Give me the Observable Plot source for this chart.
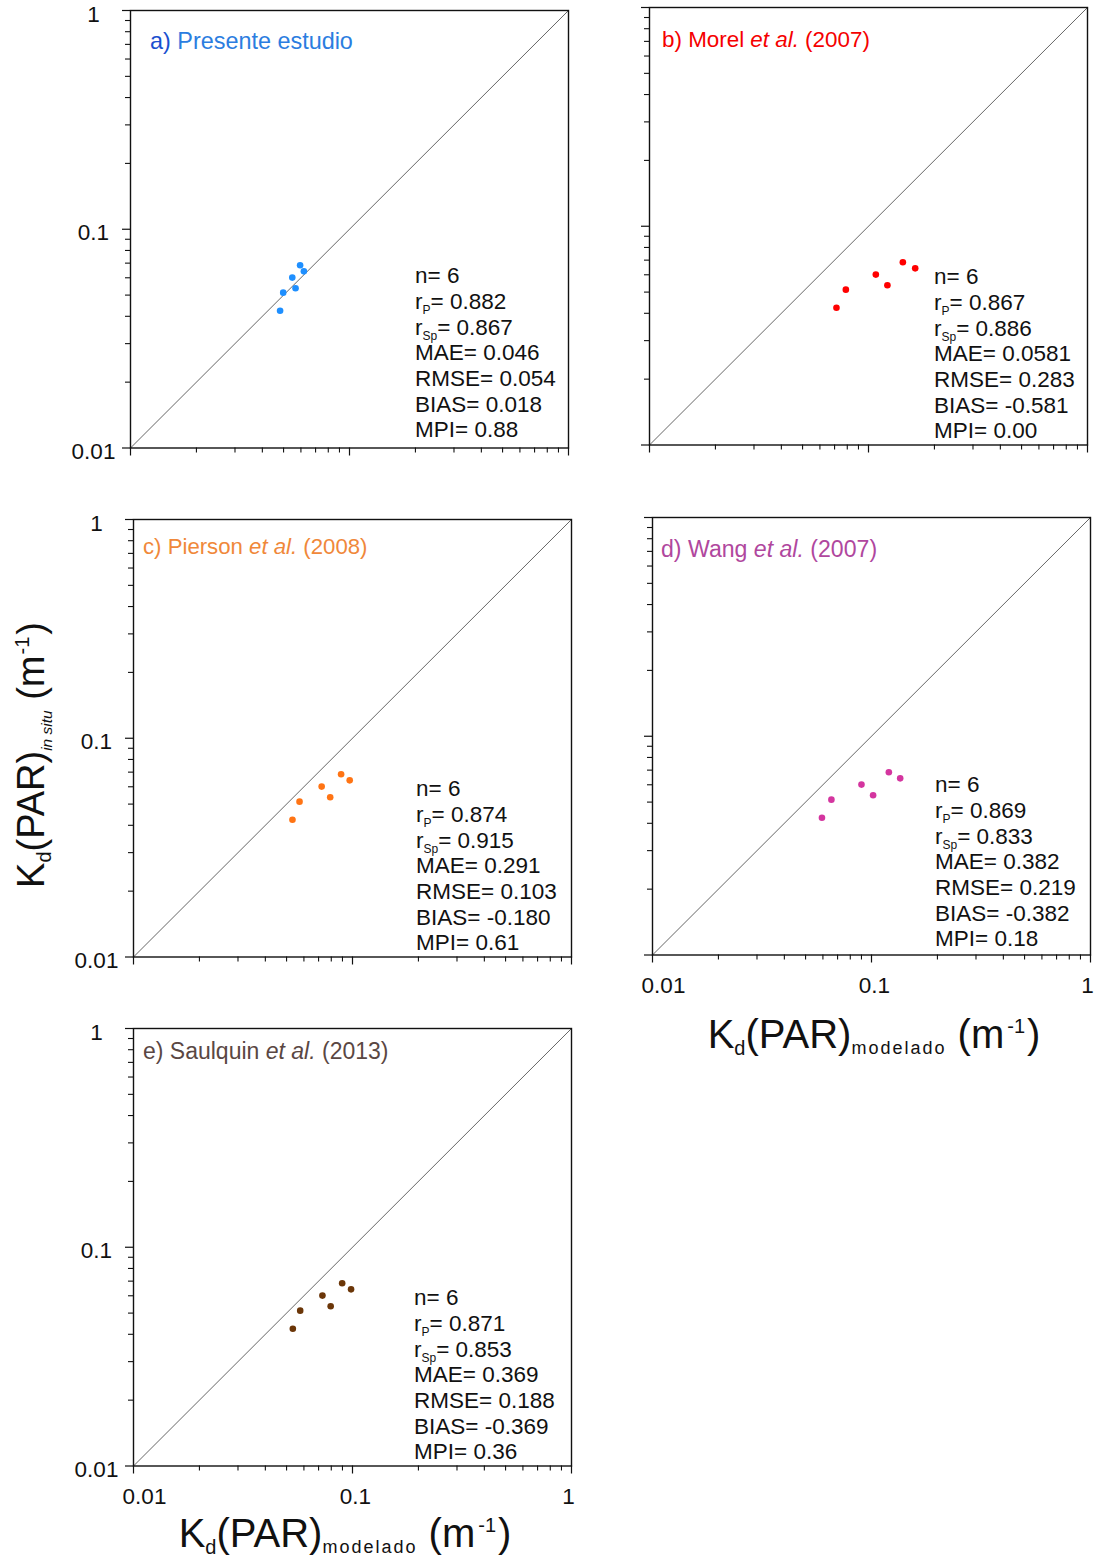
<!DOCTYPE html>
<html><head><meta charset="utf-8">
<script src="https://cdn.jsdelivr.net/npm/d3@7"></script>
<script src="https://cdn.jsdelivr.net/npm/@observablehq/plot@0.6"></script>
<style>
body{margin:0;background:#fff;}
#fig{position:relative;width:1096px;height:1559px;font-family:"Liberation Sans",Arial,sans-serif;overflow:hidden;background:#fff;}
#fig svg{position:absolute;overflow:visible;}
.ttl{position:absolute;font-size:22.5px;line-height:1;white-space:nowrap;}
.stats{position:absolute;font-size:22.5px;color:#111;white-space:nowrap;}
.stats div{height:25.7px;line-height:25.7px;}
.sb{position:relative;font-size:12px;line-height:0;top:5px;}
.axt{position:absolute;font-size:40px;line-height:1;white-space:nowrap;color:#111;transform:translate(-50%,-50%);}
.axt.rot{font-size:38px;transform:translate(-50%,-50%) rotate(-90deg);}
.s1{position:relative;font-size:20px;top:7px;line-height:0;}
.s2{position:relative;font-size:15.5px;top:8px;line-height:0;font-style:italic;}
.sm{position:relative;font-size:18px;top:6px;line-height:0;letter-spacing:2px;}
.sp{position:relative;font-size:20px;top:-15px;line-height:0;margin-left:3px;margin-right:2px;}
</style>
</head><body>
<div id="fig"></div>
<script>
// ---- data ----
const insitu   = [0.0424, 0.0513, 0.0601, 0.0537, 0.0685, 0.0642];
const presente = [0.0482, 0.0498, 0.0548, 0.0567, 0.0595, 0.0619];
const morel    = [0.0714, 0.0788, 0.108, 0.122, 0.1435, 0.1634];
const pierson  = [0.0532, 0.0573, 0.0723, 0.0791, 0.0887, 0.0971];
const wang     = [0.0594, 0.0656, 0.0900, 0.1017, 0.1200, 0.1352];
const saulquin = [0.0534, 0.0577, 0.0729, 0.0795, 0.0897, 0.0985];

const majorTicks = [0.01, 0.1, 1];
const minorTicks = [0.02,0.03,0.04,0.05,0.06,0.07,0.08,0.09,0.2,0.3,0.4,0.5,0.6,0.7,0.8,0.9];
const tickLabels = ["0.01", "0.1", "1"];
const oneToOne = [0.01, 1];

const statsA = ["6", "0.882", "0.867", "0.046", "0.054", "0.018", "0.88"];
const statsB = ["6", "0.867", "0.886", "0.0581", "0.283", "-0.581", "0.00"];
const statsC = ["6", "0.874", "0.915", "0.291", "0.103", "-0.180", "0.61"];
const statsD = ["6", "0.869", "0.833", "0.382", "0.219", "-0.382", "0.18"];
const statsE = ["6", "0.871", "0.853", "0.369", "0.188", "-0.369", "0.36"];

const panels = [
  {id:"a", model:presente, stats:statsA, dot:"#1e8fff", color:"#2b7de0", pre:"a)", preColor:"#1a4fcf", name:"Presente estudio", etal:"", year:"",
   fx:130, fy:9.5, ylab:true, xlab:false, sx:415, sy:276, tx:150, ty:49, tfs:23.4},
  {id:"b", model:morel, stats:statsB, dot:"#ff0000", color:"#f50000", pre:"b)", name:"Morel", etal:"et al.", year:"(2007)",
   fx:649.3, fy:7.3, ylab:false, xlab:false, sx:934, sy:277, tx:662, ty:48, tfs:22.4},
  {id:"c", model:pierson, stats:statsC, dot:"#ff7414", color:"#f0883a", pre:"c)", name:"Pierson", etal:"et al.", year:"(2008)",
   fx:133, fy:519, ylab:true, xlab:false, sx:416, sy:789, tx:143, ty:555, tfs:22.2},
  {id:"d", model:wang, stats:statsD, dot:"#d4359f", color:"#b0479e", pre:"d)", name:"Wang", etal:"et al.", year:"(2007)",
   fx:652, fy:517, ylab:false, xlab:true, sx:935, sy:785, tx:661, ty:557, tfs:23.1},
  {id:"e", model:saulquin, stats:statsE, dot:"#6b3608", color:"#5a4743", pre:"e)", name:"Saulquin", etal:"et al.", year:"(2013)",
   fx:133, fy:1028, ylab:true, xlab:true, sx:414, sy:1298, tx:143, ty:1059, tfs:23.0}
];

const FW = 438, FH = 437.5;
const M = {l: 70, r: 12, t: 12, b: 50};
const xLabelDx = [11, 3, -3];
const fig = document.getElementById("fig");

for (const p of panels) {
  const data = insitu.map((y, i) => ({x: p.model[i], y}));
  const marks = [
    Plot.line(oneToOne, {x: d => d, y: d => d, stroke: "#555", strokeWidth: 0.9}),
    // outward ticks on bottom and left edges
    Plot.ruleX(majorTicks, {x: d => d, insetTop: FH, insetBottom: -8, stroke: "#111", strokeWidth: 1.2}),
    Plot.ruleX(minorTicks, {x: d => d, insetTop: FH, insetBottom: -5, stroke: "#111", strokeWidth: 1.1}),
    Plot.ruleY(majorTicks, {y: d => d, insetLeft: -8, insetRight: FW, stroke: "#111", strokeWidth: 1.2}),
    Plot.ruleY(minorTicks, {y: d => d, insetLeft: -5, insetRight: FW, stroke: "#111", strokeWidth: 1.1}),
    Plot.frame({stroke: "#111", strokeWidth: 1.4}),
    Plot.dot(data, {x: "x", y: "y", r: 3.3, fill: p.dot, stroke: "none"})
  ];
  if (p.ylab) marks.push(Plot.text(majorTicks, {y: d => d, text: (d, i) => tickLabels[i], frameAnchor: "left", dx: -37, dy: 4, textAnchor: "middle", fontSize: 22.5, fill: "#111"}));
  if (p.xlab) majorTicks.forEach((v, i) => {
    marks.push(Plot.text([v], {x: d => d, text: () => tickLabels[i], frameAnchor: "bottom", dy: 38, dx: xLabelDx[i], textAnchor: "middle", fontSize: 22.5, fill: "#111"}));
  });
  const svg = Plot.plot({
    width: M.l + FW + M.r,
    height: M.t + FH + M.b,
    marginLeft: M.l, marginRight: M.r, marginTop: M.t, marginBottom: M.b,
    x: {type: "log", domain: [0.01, 1], label: null, axis: null},
    y: {type: "log", domain: [0.01, 1], label: null, axis: null},
    style: {fontFamily: "'Liberation Sans', Arial, sans-serif", background: "transparent", overflow: "visible"},
    marks
  });
  svg.style.left = (p.fx - M.l) + "px";
  svg.style.top = (p.fy - M.t) + "px";
  fig.appendChild(svg);

  // panel title
  const t = document.createElement("div");
  t.className = "ttl";
  t.style.left = p.tx + "px";
  t.style.top = (p.ty - 19) + "px";
  t.style.color = p.color;
  t.style.fontSize = p.tfs + "px";
  if (p.etal) {
    t.innerHTML = `${p.pre} ${p.name} <i>${p.etal}</i> ${p.year}`;
  } else {
    t.innerHTML = `<span style="color:${p.preColor}">${p.pre}</span> ${p.name}`;
  }
  fig.appendChild(t);

  // statistics
  const s = p.stats;
  const st = document.createElement("div");
  st.className = "stats";
  st.style.left = p.sx + "px";
  st.style.top = (p.sy - 12.85) + "px";
  st.innerHTML =
    `<div>n= ${s[0]}</div>` +
    `<div>r<span class="sb">P</span>= ${s[1]}</div>` +
    `<div>r<span class="sb">Sp</span>= ${s[2]}</div>` +
    `<div>MAE= ${s[3]}</div>` +
    `<div>RMSE= ${s[4]}</div>` +
    `<div>BIAS= ${s[5]}</div>` +
    `<div>MPI= ${s[6]}</div>`;
  fig.appendChild(st);
}

// axis titles
function axisTitle(html, cx, cy, rot) {
  const d = document.createElement("div");
  d.className = "axt" + (rot ? " rot" : "");
  d.style.left = cx + "px";
  d.style.top = cy + "px";
  d.innerHTML = html;
  fig.appendChild(d);
}
const yTitle = `K<span class="s1">d</span>(PAR)<span class="s2">in situ</span> (m<span class="sp" style="margin-left:1px">-1</span>)`;
const xTitle = `K<span class="s1">d</span>(PAR)<span class="sm">modelado</span> (m<span class="sp">-1</span>)`;
axisTitle(yTitle, 31, 755, true);
axisTitle(xTitle, 874, 1034, false);
axisTitle(xTitle, 345, 1533, false);
</script>
</body></html>
